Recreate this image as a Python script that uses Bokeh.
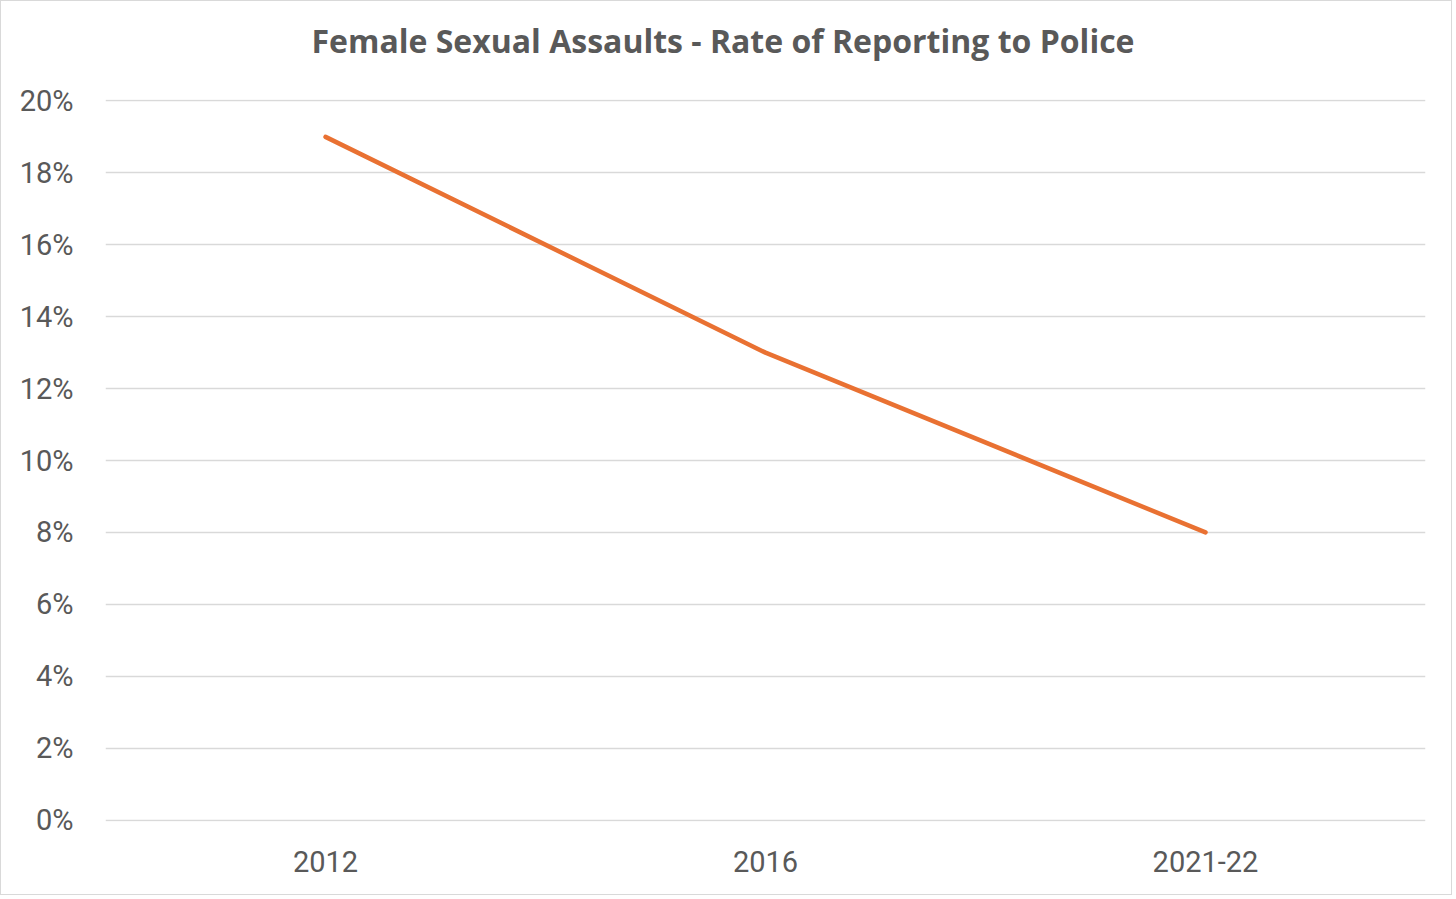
from bokeh.plotting import figure
from bokeh.models import FactorRange, Range1d, FixedTicker, PrintfTickFormatter, Title
from bokeh.embed import file_html
from bokeh.resources import INLINE

categories = ["2012", "2016", "2021-22"]
rate_pct = [19, 13, 8]
y_ticks = [0, 2, 4, 6, 8, 10, 12, 14, 16, 18, 20]
title_text = "Female Sexual Assaults - Rate of Reporting to Police"

TEXT = "#595959"
GRID = "#D9D9D9"
ORANGE = "#E97132"
FONT = "Roboto"

p = figure(width=1452, height=895, output_backend="svg", toolbar_location=None,
           x_range=FactorRange(factors=categories, range_padding=0),
           y_range=Range1d(-0.04, 20.04),
           min_border_left=104, min_border_right=28, min_border_top=98, min_border_bottom=75)

p.line(x=categories, y=rate_pct, line_color=ORANGE, line_width=4.5, line_cap="round", line_join="round")

# spacer between the frame and the title (nearest the frame)
p.add_layout(Title(text=" ", text_font_size="1px", standoff=35), "above")

p.title.text = title_text
p.title.align = "left"
p.title.offset = 206
p.title.text_font = "Open Sans"
p.title.text_font_style = "bold"
p.title.text_font_size = "32px"
p.title.text_color = TEXT
p.title.standoff = 0

p.outline_line_color = None
p.xgrid.grid_line_color = None
p.ygrid.grid_line_color = GRID
p.ygrid.grid_line_width = 1.5
p.yaxis.ticker = FixedTicker(ticks=y_ticks)
p.yaxis.formatter = PrintfTickFormatter(format="%d%%")

for ax in (p.xaxis, p.yaxis):
    ax.axis_line_color = None
    ax.major_tick_line_color = None
    ax.minor_tick_line_color = None
    ax.major_label_text_font = FONT
    ax.major_label_text_font_size = "29px"
    ax.major_label_text_color = TEXT
p.yaxis.major_label_standoff = 26
p.xaxis.major_label_standoff = 23

p.styles = {"border": "1.5px solid #D9D9D9"}

open("out.html", "w").write(file_html(p, INLINE))
